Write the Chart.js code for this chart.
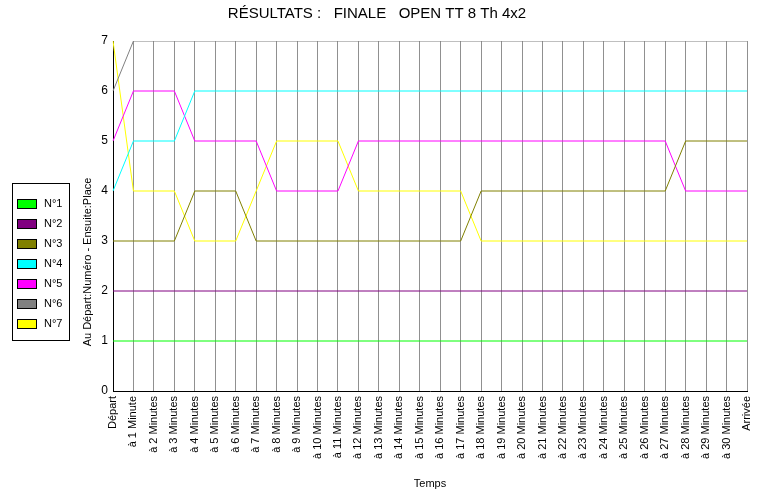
<!DOCTYPE html>
<html>
<head>
<meta charset="utf-8">
<script src="https://cdn.jsdelivr.net/npm/chart.js@4"></script>
<style>
  body { margin: 0; background: #fff; }
  #wrap { position: relative; width: 758px; height: 494px; }
  #legend {
    position: absolute; left: 12px; top: 183px; width: 56px; height: 156px;
    border: 1px solid #000; font: 11px "Liberation Sans", Arial, sans-serif; color: #000;
  }
  .item { position: absolute; left: 4px; height: 12px; }
  .item span.box {
    position: absolute; left: 0; top: 1px; width: 18px; height: 8px; border: 1px solid #000;
  }
  .item span.txt { position: absolute; left: 27px; top: -1px; white-space: nowrap; }
</style>
</head>
<body>
<div id="wrap">
  <canvas id="resultChart" width="758" height="494"></canvas>
  <div id="legend"></div>
</div>
<script>
// Données
const temps = ['Départ', 'à 1 Minute', 'à 2 Minutes', 'à 3 Minutes', 'à 4 Minutes', 'à 5 Minutes',
  'à 6 Minutes', 'à 7 Minutes', 'à 8 Minutes', 'à 9 Minutes', 'à 10 Minutes', 'à 11 Minutes',
  'à 12 Minutes', 'à 13 Minutes', 'à 14 Minutes', 'à 15 Minutes', 'à 16 Minutes', 'à 17 Minutes',
  'à 18 Minutes', 'à 19 Minutes', 'à 20 Minutes', 'à 21 Minutes', 'à 22 Minutes', 'à 23 Minutes',
  'à 24 Minutes', 'à 25 Minutes', 'à 26 Minutes', 'à 27 Minutes', 'à 28 Minutes', 'à 29 Minutes',
  'à 30 Minutes', 'Arrivée'];
const places = [0, 1, 2, 3, 4, 5, 6, 7];
const noms = ['N°1', 'N°2', 'N°3', 'N°4', 'N°5', 'N°6', 'N°7'];
const couleurs = ['#00ff00', '#800080', '#808000', '#00ffff', '#ff00ff', '#808080', '#ffff00'];

const n1 = [1,1,1,1,1,1,1,1,1,1,1,1,1,1,1,1,1,1,1,1,1,1,1,1,1,1,1,1,1,1,1,1];
const n2 = [2,2,2,2,2,2,2,2,2,2,2,2,2,2,2,2,2,2,2,2,2,2,2,2,2,2,2,2,2,2,2,2];
const n3 = [3,3,3,3,4,4,4,3,3,3,3,3,3,3,3,3,3,3,4,4,4,4,4,4,4,4,4,4,5,5,5,5];
const n4 = [4,5,5,5,6,6,6,6,6,6,6,6,6,6,6,6,6,6,6,6,6,6,6,6,6,6,6,6,6,6,6,6];
const n5 = [5,6,6,6,5,5,5,5,4,4,4,4,5,5,5,5,5,5,5,5,5,5,5,5,5,5,5,5,4,4,4,4];
const n6 = [6,7,7,7,7,7,7,7,7,7,7,7,7,7,7,7,7,7,7,7,7,7,7,7,7,7,7,7,7,7,7,7];
const n7 = [7,4,4,4,3,3,3,4,5,5,5,5,4,4,4,4,4,4,3,3,3,3,3,3,3,3,3,3,3,3,3,3];
const series = [n1, n2, n3, n4, n5, n6, n7];

const police = '"Liberation Sans", Arial, sans-serif';

// légende à gauche
const legend = document.getElementById('legend');
noms.forEach(function(nom, i) {
  const item = document.createElement('div');
  item.className = 'item';
  item.style.top = (14 + i * 20) + 'px';
  item.innerHTML = '<span class="box" style="background:' + couleurs[i] + '"></span><span class="txt">' + nom + '</span>';
  legend.appendChild(item);
});

// titre vertical de l'axe Y
const titreY = {
  id: 'titreY',
  afterDraw: function(chart) {
    const ctx = chart.ctx;
    ctx.save();
    ctx.translate(88, 262);
    ctx.rotate(-Math.PI / 2);
    ctx.font = '11px ' + police;
    ctx.fillStyle = '#000';
    ctx.textAlign = 'center';
    ctx.textBaseline = 'middle';
    ctx.fillText('Au Départ:Numéro - Ensuite:Place', 0, 0);
    ctx.restore();
  }
};

const ctx = document.getElementById('resultChart').getContext('2d');
new Chart(ctx, {
  type: 'line',
  data: {
    labels: temps,
    datasets: series.map(function(d, i) {
      return {
        label: noms[i],
        data: d,
        borderColor: couleurs[i],
        backgroundColor: couleurs[i],
        borderWidth: 1,
        pointRadius: 0,
        tension: 0,
        fill: false
      };
    })
  },
  options: {
    responsive: false,
    animation: false,
    layout: { padding: { left: 0, right: 4, top: 0, bottom: 3 } },
    plugins: {
      legend: { display: false },
      tooltip: { enabled: false },
      title: {
        display: true,
        text: 'RÉSULTATS :   FINALE   OPEN TT 8 Th 4x2',
        color: '#000',
        font: { family: police, size: 15, weight: 'normal' },
        padding: { top: 5, bottom: 18 }
      }
    },
    scales: {
      x: {
        grid: { display: true, color: '#909090', drawTicks: false },
        border: { display: true, color: '#000' },
        ticks: {
          autoSkip: false, maxRotation: 90, minRotation: 90, padding: 5,
          color: '#000', font: { family: police, size: 11 }
        },
        title: {
          display: true, text: 'Temps', color: '#000',
          font: { family: police, size: 11 }, padding: { top: 0, bottom: 0 }
        },
        afterFit: function(axis) {
          axis.height = 100;
          axis.paddingLeft = 0;
          axis.paddingRight = 11;
        }
      },
      y: {
        min: 0,
        max: 7,
        afterBuildTicks: function(axis) { axis.ticks = places.map(function(v) { return { value: v }; }); },
        grid: { display: false, drawTicks: false },
        border: { display: true, color: '#000' },
        ticks: { padding: 5, color: '#000', font: { family: police, size: 12 } },
        afterFit: function(axis) { axis.width = 113; }
      }
    }
  },
  plugins: [titreY]
});
</script>
</body>
</html>
